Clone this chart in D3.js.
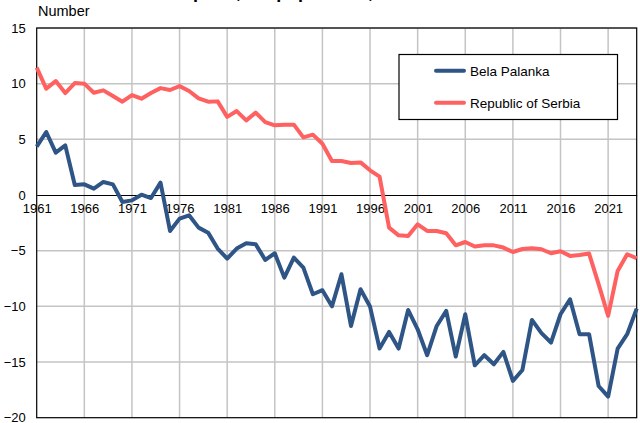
<!DOCTYPE html>
<html>
<head>
<meta charset="utf-8">
<script src="https://cdn.jsdelivr.net/npm/d3@7"></script>
<style>
  body { margin: 0; background: #fff; }
  svg { display: block; font-family: "Liberation Sans", Arial, sans-serif; }
</style>
</head>
<body>
<svg id="chart" width="640" height="423"></svg>
<script>
// data
var years = d3.range(1961, 2025);
var belaPalanka = [4.34, 5.66, 3.8, 4.46, 0.9, 0.96, 0.57, 1.17, 0.96, -0.63,
  -0.48, 0.03, -0.27, 1.11, -3.23, -2.12, -1.82, -2.93, -3.38, -4.81,
  -5.71, -4.81, -4.34, -4.43, -5.83, -5.23, -7.42, -5.62, -6.52, -8.91,
  -8.55, -10.0, -7.12, -11.76, -8.46, -10.02, -13.79, -12.3, -13.79, -10.32,
  -12.06, -14.39, -11.76, -10.41, -14.51, -10.71, -15.29, -14.39, -15.2, -14.09,
  -16.7, -15.71, -11.22, -12.41, -13.25, -10.71, -9.36, -12.5, -12.5, -17.15,
  -18.1, -13.79, -12.5, -10.2];
var serbia = [11.44, 9.55, 10.23, 9.16, 10.05, 10.0, 9.19, 9.4, 8.89, 8.38,
  8.98, 8.65, 9.16, 9.6, 9.43, 9.78, 9.34, 8.68, 8.38, 8.41,
  7.02, 7.54, 6.7, 7.4, 6.55, 6.26, 6.32, 6.32, 5.18, 5.42,
  4.61, 3.05, 3.05, 2.87, 2.93, 2.22, 1.65, -2.93, -3.62, -3.68,
  -2.63, -3.23, -3.23, -3.44, -4.52, -4.22, -4.63, -4.52, -4.52, -4.72,
  -5.12, -4.85, -4.78, -4.87, -5.23, -5.05, -5.47, -5.39, -5.26, -8.0,
  -10.86, -6.82, -5.32, -5.68];
var xTicks = d3.range(1961, 2025, 5);
var yTicks = [-20, -15, -10, -5, 0, 5, 10, 15];
var seriesNames = ["Bela Palanka", "Republic of Serbia"];
var seriesColors = ["#2e5585", "#ff6060"];

var svg = d3.select('#chart');
var plotL = 36.7, plotR = 636.7, plotT = 28, plotB = 417.7;

var x = d3.scaleLinear().domain([1961, 2024]).range([plotL, plotR]);
var y = d3.scaleLinear().domain([-20, 15]).range([plotB, plotT]);

// title, mostly outside the window like in the picture
svg.append('text')
   .attr('x', 48).attr('y', -2.5)
   .style('font-size', '18px').style('font-weight', 'bold')
   .text('Natural increase per 1,000 population, 1961\u20132024');

svg.append('text')
   .attr('x', 38).attr('y', 16)
   .style('font-size', '14.5px')
   .text('Number');

// grid
var grid = svg.append('g');
grid.selectAll('.vgrid')
    .data(xTicks.slice(1))
    .enter().append('line')
    .attr('class', 'vgrid')
    .attr('x1', function(d){ return x(d); })
    .attr('x2', function(d){ return x(d); })
    .attr('y1', plotT).attr('y2', plotB)
    .attr('stroke', '#c4c4c4').attr('stroke-width', 1.5);
grid.selectAll('.hgrid')
    .data(yTicks.filter(function(d){ return d != 0 && d != -20; }))
    .enter().append('line')
    .attr('class', 'hgrid')
    .attr('x1', plotL).attr('x2', plotR)
    .attr('y1', function(d){ return y(d); })
    .attr('y2', function(d){ return y(d); })
    .attr('stroke', '#c4c4c4').attr('stroke-width', 1.5);

// frame
svg.append('rect')
   .attr('x', plotL).attr('y', plotT)
   .attr('width', plotR - plotL).attr('height', plotB - plotT)
   .attr('fill', 'none').attr('stroke', '#000').attr('stroke-width', 1.2);

// zero line with year labels
var xAxis = svg.append('g')
   .attr('transform', 'translate(0,' + y(0) + ')')
   .call(d3.axisBottom(x).tickValues(xTicks).tickFormat(d3.format('d')).tickSize(0).tickPadding(9));
xAxis.select('.domain').attr('stroke', '#000').attr('stroke-width', 1.2);
xAxis.selectAll('text').style('font-size', '13px').style('font-family', 'Liberation Sans, Arial, sans-serif').attr('fill', '#000');

var yAxis = svg.append('g')
   .attr('transform', 'translate(' + plotL + ',0)')
   .call(d3.axisLeft(y).tickValues(yTicks).tickSize(0).tickPadding(11));
yAxis.select('.domain').remove();
yAxis.selectAll('text').style('font-size', '13px').style('font-family', 'Liberation Sans, Arial, sans-serif').attr('fill', '#000');

// lines
var line = d3.line()
   .x(function(d, i){ return x(years[i]); })
   .y(function(d){ return y(d); });

[belaPalanka, serbia].forEach(function(s, k) {
  svg.append('path')
     .datum(s)
     .attr('d', line)
     .attr('fill', 'none')
     .attr('stroke', seriesColors[k])
     .attr('stroke-width', 4)
     .attr('stroke-linejoin', 'round');
});

// legend
var legend = svg.append('g');
legend.append('rect')
      .attr('x', 399).attr('y', 54.5).attr('width', 218.5).attr('height', 65)
      .attr('fill', '#fff').attr('stroke', '#000').attr('stroke-width', 1.2);
var items = legend.selectAll('.item')
      .data(seriesNames)
      .enter().append('g')
      .attr('class', 'item')
      .attr('transform', function(d, i){ return 'translate(0,' + (70.7 + i * 32) + ')'; });
items.append('line')
     .attr('x1', 436).attr('x2', 464)
     .attr('stroke', function(d, i){ return seriesColors[i]; })
     .attr('stroke-width', 4).attr('stroke-linecap', 'round');
items.append('text')
     .attr('x', 470).attr('y', 4.8)
     .style('font-size', '13.5px')
     .text(function(d){ return d; });
</script>
</body>
</html>
